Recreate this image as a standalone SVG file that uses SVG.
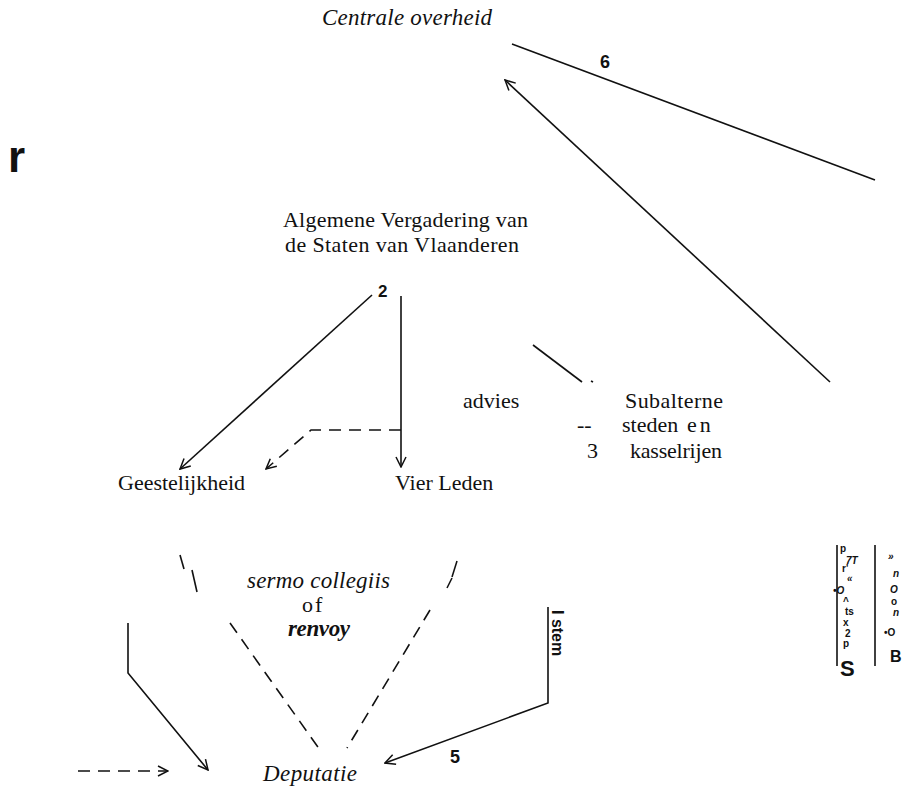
<svg xmlns="http://www.w3.org/2000/svg" width="908" height="790" viewBox="0 0 908 790">
<style>
.t{font-family:"Liberation Serif","Times New Roman",serif;font-size:22px;fill:#111}
.i{font-family:"Liberation Serif","Times New Roman",serif;font-style:italic;font-size:23px;fill:#111}
.b{font-family:"Liberation Sans",Arial,sans-serif;font-weight:bold;fill:#111}
.s{font-family:"Liberation Sans",Arial,sans-serif;font-weight:bold;fill:#111;font-size:10px}
.ln{stroke:#111;stroke-width:1.6;fill:none}
.dl{stroke:#111;stroke-width:1.6;fill:none;stroke-dasharray:12 8}
</style>
<defs>
<marker id="ah" viewBox="0 0 12 12" refX="11" refY="6" markerWidth="12" markerHeight="12" markerUnits="userSpaceOnUse" orient="auto">
<path d="M1,1 L11,6 L1,11" fill="none" stroke="#111" stroke-width="1.5"/>
</marker>
</defs>
<rect width="908" height="790" fill="#fff"/>

<g id="centrale"><text class="i" x="322" y="25" textLength="170">Centrale overheid</text></g>
<g id="r"><text class="b" x="8" y="172" font-size="44">r</text></g>
<g id="algemene">
<text class="t" x="283" y="227" textLength="245">Algemene Vergadering van</text>
<text class="t" x="285" y="252" textLength="234">de Staten van Vlaanderen</text>
</g>
<g id="geestelijkheid"><text class="t" x="118" y="490">Geestelijkheid</text></g>
<g id="vierleden"><text class="t" x="395" y="490">Vier Leden</text></g>
<g id="advies"><text class="t" x="463" y="408">advies</text></g>
<g id="subalterne">
<text class="t" x="625" y="408" textLength="98">Subalterne</text>
<text class="t" x="577" y="432">--</text>
<text class="t" x="622" y="432">steden</text>
<text class="t" x="687" y="432" letter-spacing="3">en</text>
<text class="t" x="587" y="458">3</text>
<text class="t" x="630" y="458" textLength="92">kasselrijen</text>
</g>
<g id="sermo">
<text class="i" x="247" y="588" textLength="143">sermo collegiis</text>
<text class="t" x="302" y="612" font-size="25" letter-spacing="2">of</text>
<text class="i" x="288" y="636" font-weight="bold" font-size="19" textLength="62">renvoy</text>
</g>
<g id="deputatie"><text class="i" x="263" y="781" textLength="94">Deputatie</text></g>
<g id="side">
<line x1="837" y1="545" x2="837" y2="666" class="ln"/>
<line x1="875" y1="545" x2="875" y2="666" class="ln"/>
<text class="s" x="840" y="552">p</text>
<text class="s" font-style="italic" x="846" y="564">7T</text>
<text class="s" font-size="7" x="842" y="572">r'</text>
<text class="s" font-style="italic" x="847" y="582">«</text>
<text class="s" font-style="italic" x="833" y="594">•O</text>
<text class="s" x="843" y="605">^</text>
<text class="s" x="845" y="615">ts</text>
<text class="s" x="843" y="626">x</text>
<text class="s" x="845" y="637">2</text>
<text class="s" x="843" y="647">p</text>
<text class="b" font-size="22" x="840" y="676">S</text>
<text class="s" font-size="12" font-style="italic" x="888" y="560">»</text>
<text class="s" font-style="italic" x="893" y="577">n</text>
<text class="s" font-size="12" font-style="italic" x="890" y="593">O</text>
<text class="s" x="891" y="605">o</text>
<text class="s" font-style="italic" x="893" y="616">n</text>
<text class="s" font-size="12" x="884" y="636">•O</text>
<text class="b" font-size="16" x="890" y="662">B</text>
</g>
<g id="labels">
<text class="b" font-size="17" x="378" y="297">2</text>
<text class="b" font-size="18" x="600" y="68">6</text>
<text class="b" font-size="18" x="450" y="763">5</text>
<text class="b" font-size="16" transform="translate(552,610) rotate(90)">I stem</text>
</g>
<g id="connectors">
<line x1="512" y1="44" x2="875" y2="180" class="ln"/>
<line x1="830" y1="382" x2="505" y2="80" class="ln" marker-end="url(#ah)"/>
<line x1="533" y1="345" x2="582" y2="382" class="ln"/>
<line x1="591" y1="381" x2="593" y2="382" class="ln"/>
<line x1="372" y1="295" x2="180" y2="469" class="ln" marker-end="url(#ah)"/>
<line x1="401" y1="296" x2="401" y2="467" class="ln" stroke-width="2" marker-end="url(#ah)"/>
<polyline points="401,430 311,430 266,469" class="dl" marker-end="url(#ah)"/>
<line x1="180" y1="555" x2="184" y2="569" class="ln" stroke-width="2"/>
<line x1="192" y1="570" x2="197" y2="592" class="ln" stroke-width="1"/>
<line x1="447" y1="588" x2="452" y2="578" class="ln" stroke-width="1"/>
<line x1="452" y1="577" x2="457" y2="561" class="ln" stroke-width="2"/>
<polyline points="128,623 128,673 208,770" class="ln" marker-end="url(#ah)"/>
<line x1="230" y1="623" x2="320" y2="750" class="dl"/>
<line x1="430" y1="610" x2="347" y2="748" class="dl"/>
<line x1="78" y1="771" x2="168" y2="771" class="dl" marker-end="url(#ah)"/>
<polyline points="548,607 548,703 385,763" class="ln" stroke-width="2" marker-end="url(#ah)"/>
</g>
</svg>
